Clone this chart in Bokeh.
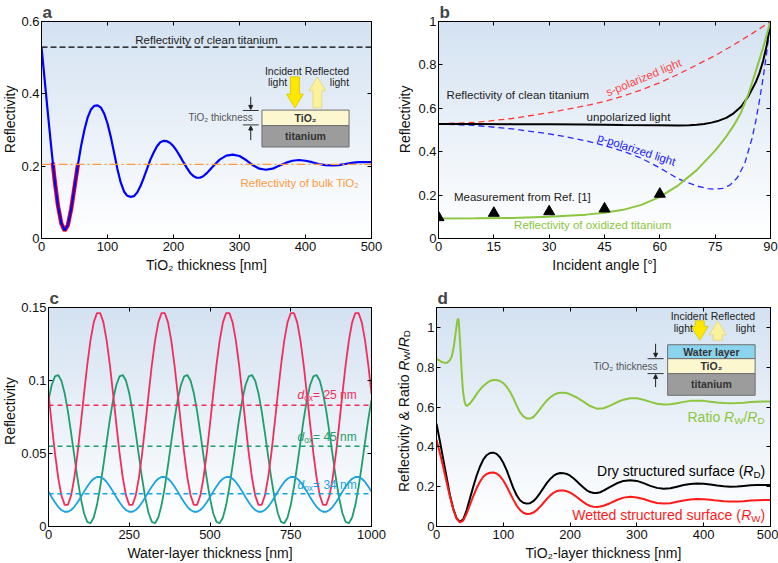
import math
import numpy as np
from bokeh.plotting import figure
from bokeh.models import Range1d, FixedTicker, LinearAxis, Label, Span, Arrow, NormalHead
from bokeh.layouts import column, row
from bokeh.embed import file_html
from bokeh.resources import INLINE

FONT = "Liberation Sans"

# ---------------- data ----------------
# panel a : reflectivity vs TiO2 thickness
a_x = list(range(0, 255, 5)) + list(range(260, 510, 10))
a_blue = [.529, .435, .34, .248, .16, .09, .042, .022, .037, .082, .142, .202, .256, .3, .335, .357, .367,
          .368, .362, .345, .318, .281, .237, .192, .155, .13, .118, .115, .117, .127, .145, .168, .193,
          .218, .238, .255, .266, .27, .269, .264, .255, .242, .227, .211, .196, .182, .173, .168, .168,
          .172, .18,
          .2, .218, .229, .232, .228, .217, .203, .193, .19, .193, .201, .209, .215, .217, .215, .211,
          .206, .203, .202, .203, .206, .209, .211, .211, .211]
a_red_x = [17, 20, 25, 30, 35, 40, 45, 50, 55, 56]
a_red = [.21, .16, .09, .042, .022, .037, .082, .142, .202, .207]
R_CLEAN = 0.529
R_BULK = 0.205
a_xticks = [0, 100, 200, 300, 400, 500]
a_xlabels = ["0", "100", "200", "300", "400", "500"]
a_yticks = [0, 0.2, 0.4, 0.6]
a_ylabels = ["0", "0.2", "0.4", "0.6"]

# panel b : reflectivity vs incident angle
b_s_x = [0, 10, 20, 30, 40, 45, 50, 55, 60, 65, 70, 75, 80, 85, 90]
b_s = [.528, .535, .553, .58, .612, .632, .656, .685, .718, .757, .8, .843, .892, .944, 1.0]
b_p_x = [0, 10, 20, 30, 35, 40, 45, 50, 55, 60, 65, 70, 73, 75, 77, 79, 81, 83, 85, 86, 87, 88, 89, 90]
b_p = [.528, .521, .505, .482, .467, .45, .428, .403, .37, .325, .275, .242, .23, .227, .231, .246,
       .28, .345, .462, .54, .635, .74, .86, 1.0]
b_u_x = [0, 10, 20, 30, 40, 50, 60, 65, 68, 70, 72, 74, 76, 78, 80, 82, 84, 86, 87, 88, 89, 90]
b_u = [.528, .528, .527, .526, .525, .523, .522, .521, .522, .524, .528, .534, .543, .556, .577,
       .607, .655, .72, .762, .818, .892, 1.0]
b_g_x = [0, 10, 20, 30, 40, 45, 50, 55, 60, 65, 70, 75, 78, 80, 82, 84, 86, 88, 90]
b_g = [.092, .093, .095, .1, .11, .119, .132, .155, .192, .245, .315, .405, .47, .52, .58, .665,
       .77, .88, 1.0]
b_meas_x = [0, 15, 30, 45, 60]
b_meas = [.097, .117, .124, .137, .205]
b_xticks = [0, 15, 30, 45, 60, 75, 90]
b_xlabels = ["0", "15", "30", "45", "60", "75", "90"]
b_yticks = [0, 0.2, 0.4, 0.6, 0.8, 1]
b_ylabels = ["0", "0.2", "0.4", "0.6", "0.8", "1"]

# panel c : reflectivity vs water-layer thickness
c_x = list(range(0, 1010, 10))
c_25 = [.0909, .0701, .0503, .0335, .0212, .0148, .0148, .0212, .0335, .0503, .0701, .0909, .1107, .1275, .1398, .1462, .1462, .1398, .1275, .1107,
        .0909, .0701, .0503, .0335, .0212, .0148, .0148, .0212, .0335, .0503, .0701, .0909, .1107, .1275, .1398, .1462, .1462, .1398, .1275, .1107,
        .0909, .0701, .0503, .0335, .0212, .0148, .0148, .0212, .0335, .0503, .0701, .0909, .1107, .1275, .1398, .1462, .1462, .1398, .1275, .1107,
        .0909, .0701, .0503, .0335, .0212, .0148, .0148, .0212, .0335, .0503, .0701, .0909, .1107, .1275, .1398, .1462, .1462, .1398, .1275, .1107,
        .0909, .0701, .0503, .0335, .0212, .0148, .0148, .0212, .0335, .0503, .0701, .0909, .1107, .1275, .1398, .1462, .1462, .1398, .1275, .1107,
        .0909]
c_45 = [.0867, .0969, .1028, .1038, .0998, .0913, .0790, .0641, .0482, .0327, .0193, .0091, .0032, .0022, .0062, .0147, .0270, .0419, .0578, .0733,
        .0867, .0969, .1028, .1038, .0998, .0913, .0790, .0641, .0482, .0327, .0193, .0091, .0032, .0022, .0062, .0147, .0270, .0419, .0578, .0733,
        .0867, .0969, .1028, .1038, .0998, .0913, .0790, .0641, .0482, .0327, .0193, .0091, .0032, .0022, .0062, .0147, .0270, .0419, .0578, .0733,
        .0867, .0969, .1028, .1038, .0998, .0913, .0790, .0641, .0482, .0327, .0193, .0091, .0032, .0022, .0062, .0147, .0270, .0419, .0578, .0733,
        .0867, .0969, .1028, .1038, .0998, .0913, .0790, .0641, .0482, .0327, .0193, .0091, .0032, .0022, .0062, .0147, .0270, .0419, .0578, .0733,
        .0867]
c_34 = [.0239, .0201, .0166, .0135, .0113, .0101, .0101, .0113, .0135, .0166, .0201, .0239, .0274, .0305, .0327, .0339, .0339, .0327, .0305, .0274,
        .0239, .0201, .0166, .0135, .0113, .0101, .0101, .0113, .0135, .0166, .0201, .0239, .0274, .0305, .0327, .0339, .0339, .0327, .0305, .0274,
        .0239, .0201, .0166, .0135, .0113, .0101, .0101, .0113, .0135, .0166, .0201, .0239, .0274, .0305, .0327, .0339, .0339, .0327, .0305, .0274,
        .0239, .0201, .0166, .0135, .0113, .0101, .0101, .0113, .0135, .0166, .0201, .0239, .0274, .0305, .0327, .0339, .0339, .0327, .0305, .0274,
        .0239, .0201, .0166, .0135, .0113, .0101, .0101, .0113, .0135, .0166, .0201, .0239, .0274, .0305, .0327, .0339, .0339, .0327, .0305, .0274,
        .0239]
c_means = [0.083, 0.055, 0.0225]
c_names = ["25", "45", "34"]
c_xticks = [0, 250, 500, 750, 1000]
c_xlabels = ["0", "250", "500", "750", "1000"]
c_yticks = [0, 0.05, 0.1, 0.15]
c_ylabels = ["0", "0.05", "0.1", "0.15"]

# panel d : dry / wetted reflectivity and their ratio
d_x = list(range(0, 255, 5)) + list(range(260, 510, 10))
d_dry = [.517, .43, .34, .25, .16, .09, .042, .024, .036, .08, .14, .2, .255, .3, .336, .358, .369, .371,
         .365, .348, .32, .283, .238, .193, .157, .132, .119, .115, .117, .127, .145, .168, .193, .218,
         .238, .254, .264, .269, .268, .264, .255, .242, .227, .211, .196, .182, .173, .168, .168, .172, .18,
         .199, .217, .229, .232, .229, .218, .204, .194, .19, .192, .2, .208, .214, .216, .215, .211,
         .206, .202, .2, .201, .204, .207, .209, .209, .209]
d_wet = [.436, .37, .3, .225, .152, .088, .04, .021, .03, .064, .108, .152, .192, .225, .25, .264, .27,
         .271, .266, .253, .231, .202, .168, .135, .105, .083, .069, .063, .064, .07, .082, .099, .118,
         .138, .155, .169, .178, .181, .181, .177, .17, .16, .148, .135, .122, .111, .103, .099, .098, .1, .104,
         .117, .133, .145, .149, .146, .138, .127, .118, .115, .117, .124, .131, .136, .138, .137, .134,
         .13, .127, .125, .125, .127, .13, .132, .133, .133]
d_ratio_x = [0, 4, 8, 12, 16, 20, 23, 26, 28, 30, 31, 32, 33, 34, 35, 36, 37, 38, 39, 40, 42, 44, 46, 50] + \
    list(range(55, 205, 5)) + list(range(210, 510, 10))
d_ratio = [.842, .835, .826, .822, .823, .835, .855, .905, .955, 1.005, 1.03, 1.043, 1.04, 1.0, .94, .885,
           .82, .76, .71, .67, .628, .608, .607, .617,
           .64, .665, .687, .706, .72, .731, .736, .736, .731, .72, .702, .677, .645, .607, .574, .553,
           .543, .542, .55, .568, .59, .612, .632, .648, .66, .668, .672, .672, .67, .664,
           .648, .627, .605, .592, .594, .607, .624, .637, .644, .644, .637, .626, .617, .613, .614,
           .619, .626, .631, .632, .631, .627, .623, .62, .619, .62, .622, .625, .627, .628, .628]
d_xticks = [0, 100, 200, 300, 400, 500]
d_xlabels = ["0", "100", "200", "300", "400", "500"]
d_yticks = [0, 0.2, 0.4, 0.6, 0.8, 1]
d_ylabels = ["0", "0.2", "0.4", "0.6", "0.8", "1"]

# ---------------- helpers ----------------
_W = {}
for chars, w in [(" !./[]", 278), ("()-r", 333), ("=", 584), ("&", 667), ("0123456789", 556),
                 ("ABEKPSVXY", 667), ("CDHNRU", 722), ("FTZ", 611), ("GOQ", 778), ("I", 278), ("J", 500),
                 ("L", 556), ("M", 833), ("W", 944), ("abdeghnopqu", 556), ("cksvxyz", 500),
                 ("ft", 278), ("ijl", 222), ("m", 833), ("w", 722)]:
    for ch in chars:
        _W[ch] = w


def tw(s, size):
    return sum(_W.get(ch, 556) for ch in s) * size / 1000.0


def rich(p, x, y, pieces, size, color, align="left", vertical=False):
    """Mixed normal / italic / subscript text.  Horizontal: y is the centre of the text line.
    Vertical (rotated 90 deg): x is the centre of the text line, y the centre along the text."""
    sizes = [size * 0.7 if k == "s" else size for _, k in pieces]
    widths = [tw(t, fs) for (t, _), fs in zip(pieces, sizes)]
    total = sum(widths)
    pos = {"left": 0.0, "center": -total / 2, "right": -total}[align]
    for (t, k), fs, w in zip(pieces, sizes, widths):
        drop = 0.22 * size if k == "s" else 0.0
        if vertical:
            xo, yo, ang = drop, pos, math.pi / 2
        else:
            xo, yo, ang = pos, -drop, 0.0
        p.add_layout(Label(x=x, y=y, x_offset=xo, y_offset=yo, text=t, angle=ang,
                           text_font=FONT, text_font_size="%.1fpx" % fs,
                           text_font_style="italic" if k == "i" else "normal",
                           text_color=color, text_align="left", text_baseline="middle"))
        pos += w


def label(p, x, y, text, size=11.5, color="#222222", align="left", bold=False, angle=0.0):
    p.add_layout(Label(x=x, y=y, text=text, angle=angle, text_font=FONT, text_font_size="%.1fpx" % size,
                       text_font_style="bold" if bold else "normal", text_color=color,
                       text_align=align, text_baseline="middle"))


def make_fig(w, h, bl, br, bt, bb, xr, yr, letter):
    p = figure(width=w, height=h, x_range=Range1d(*xr), y_range=Range1d(*yr),
               output_backend="svg", toolbar_location=None, title=letter,
               min_border_left=bl, min_border_right=br, min_border_top=bt, min_border_bottom=bb)
    p.title.text_font = FONT
    p.title.text_font_size = "17px"
    p.title.text_font_style = "bold"
    p.title.align = "left"
    p.title.standoff = 0
    p.title.offset = 1
    p.grid.visible = False
    p.outline_line_color = "black"
    p.outline_line_width = 1
    p.border_fill_color = "white"
    p.background_fill_color = "white"
    # gradient background of the plotting area
    n = 64
    img = np.zeros((n, 2), dtype=np.uint32)
    view = img.view(dtype=np.uint8).reshape((n, 2, 4))
    top = (212, 226, 241)
    for i in range(n):
        t = i / (n - 1)
        for c in range(3):
            view[i, :, c] = int(round(255 + (top[c] - 255) * t))
        view[i, :, 3] = 255
    p.image_rgba(image=[img], x=xr[0], y=yr[0], dw=xr[1] - xr[0], dh=yr[1] - yr[0])
    return p


def style_axes(p, xt, xl, yt, yl, xlabel):
    p.xaxis.ticker = FixedTicker(ticks=xt)
    p.xaxis.major_label_overrides = dict(zip(xt, xl))
    p.yaxis.ticker = FixedTicker(ticks=yt)
    p.yaxis.major_label_overrides = dict(zip(yt, yl))
    for ax in (p.xaxis[0], p.yaxis[0]):
        ax.major_tick_in = 4
        ax.major_tick_out = 0
        ax.minor_tick_line_color = None
        ax.axis_line_color = "black"
        ax.major_label_text_font = FONT
        ax.major_label_text_font_size = "13px"
        ax.major_label_text_color = "#111111"
        ax.axis_label_text_font = FONT
        ax.axis_label_text_font_size = "14px"
        ax.axis_label_text_font_style = "normal"
        ax.axis_label_text_color = "#111111"
        ax.major_label_standoff = 3
        ax.axis_label_standoff = 3
    p.yaxis.major_label_standoff = 2
    p.xaxis.axis_label = xlabel
    for loc, ticks in (("above", xt), ("right", yt)):
        ax = LinearAxis(ticker=FixedTicker(ticks=ticks), major_label_text_font_size="0px",
                        major_label_text_color=None, major_label_text_alpha=0,
                        major_label_standoff=0, major_tick_in=4, major_tick_out=0,
                        minor_tick_line_color=None, axis_line_color="black")
        p.add_layout(ax, loc)


def ylabel_fig(w, h, yc_from_top, pieces, size=14):
    f = figure(width=w, height=h, x_range=Range1d(0, w), y_range=Range1d(0, h), title=None,
               x_axis_type=None, y_axis_type=None, output_backend="svg", toolbar_location=None,
               min_border=0)
    f.outline_line_color = None
    f.grid.visible = False
    f.border_fill_color = "white"
    f.background_fill_color = "white"
    rich(f, w / 2, h - yc_from_top, pieces, size, "#111111", "center", vertical=True)
    return f


def block_arrow(p, cx, y_tail, y_tip, kx, ky, fill, line, shaft=9, head=17, head_len=14):
    hs = shaft / 2 / kx
    hh = head / 2 / kx
    d = 1 if y_tip > y_tail else -1
    yb = y_tip - d * head_len / ky
    xs = [cx - hs, cx + hs, cx + hs, cx + hh, cx, cx - hh, cx - hs]
    ys = [y_tail, y_tail, yb, yb, y_tip, yb, yb]
    p.patch(xs, ys, fill_color=fill, line_color=line, line_width=0.8)


def small_arrow(p, x, y0, y1):
    p.add_layout(Arrow(end=NormalHead(size=4, fill_color="#222222", line_color="#222222"),
                       x_start=x, y_start=y0, x_end=x, y_end=y1,
                       line_color="#222222", line_width=1))


def stack_diagram(p, x0, x1, layers, kx, ky, inc_x, ref_x, arr_tail, arr_tip, txt_y, gap_x, thick_lines,
                  thick_arrows, thick_text):
    for bottom, top_, fill, txt in layers:
        p.quad(left=x0, right=x1, bottom=bottom, top=top_, fill_color=fill, line_color="#707070", line_width=1)
        label(p, (x0 + x1) / 2, (bottom + top_) / 2, txt, size=10.5, color="#333333", align="center", bold=True)
    block_arrow(p, inc_x, arr_tail, arr_tip, kx, ky, "#ffe800", "#d9c400")
    block_arrow(p, ref_x, arr_tip, arr_tail, kx, ky, "#fbf19a", "#e0d67f")
    label(p, x0 + 3 / kx, txt_y[0], "Incident", size=10.5)
    label(p, x0 + 6 / kx, txt_y[1], "light", size=10.5)
    label(p, x1, txt_y[0], "Reflected", size=10.5, align="right")
    label(p, x1, txt_y[1], "light", size=10.5, align="right")
    label(p, gap_x[0], thick_text, "TiO\u2082 thickness", size=10, color="#555555", align="right")
    p.segment(x0=[gap_x[1]] * 2, x1=[gap_x[2]] * 2, y0=thick_lines, y1=thick_lines, line_color="#333333", line_width=1)
    small_arrow(p, gap_x[3], thick_arrows[0], thick_arrows[1])
    small_arrow(p, gap_x[3], thick_arrows[2], thick_arrows[3])


H1, H2 = 285, 278
REFL = [("Reflectivity", "n")]

# ---------------- panel a ----------------
la = ylabel_fig(18, H1, 128.5, REFL)
pa = make_fig(377, H1, 21, 24, 19, 47, (0, 500), (0, 0.6), "a")
style_axes(pa, a_xticks, a_xlabels, a_yticks, a_ylabels, "TiO\u2082 thickness [nm]")
kxa, kya = 332 / 500, 219 / 0.6
pa.add_layout(Span(location=R_CLEAN, dimension="width", line_color="black", line_width=1.2, line_dash="6 3"))
pa.add_layout(Span(location=R_BULK, dimension="width", line_color="#ff9a3c", line_width=1.3, line_dash="9 3 2 3"))
pa.line(a_red_x, a_red, line_color="#ff0000", line_width=4.2)
pa.line(a_x, a_blue, line_color="#0000ff", line_width=2.2)
label(pa, 250, 0.548, "Reflectivity of clean titanium", align="center")
label(pa, 481, 0.154, "Reflectivity of bulk TiO\u2082", color="#ff9a3c", align="right")
stack_diagram(pa, 334, 466, [(0.312, 0.355, "#fdf7d0", "TiO\u2082"), (0.253, 0.312, "#9c9c9c", "titanium")],
              kxa, kya, 384, 418, 0.447, 0.361, (0.463, 0.433), (320, 305, 329, 317), [0.354, 0.314],
              (0.392, 0.357, 0.272, 0.311), 0.334)

# ---------------- panel b ----------------
lb = ylabel_fig(18, H1, 128.5, REFL)
pb = make_fig(365, H1, 25, 8, 19, 47, (0, 90), (0, 1), "b")
style_axes(pb, b_xticks, b_xlabels, b_yticks, b_ylabels, "Incident angle [\u00b0]")
pb.line(b_s_x, b_s, line_color="#ff3838", line_width=1.3, line_dash="6 4")
pb.line(b_p_x, b_p, line_color="#2828ff", line_width=1.3, line_dash="6 4")
pb.line(b_u_x, b_u, line_color="black", line_width=2)
pb.line(b_g_x, b_g, line_color="#8cc63f", line_width=2)
pb.scatter(b_meas_x, b_meas, marker="triangle", size=11, color="black")
label(pb, 2.2, 0.66, "Reflectivity of clean titanium")
label(pb, 51.5, 0.562, "unpolarized light", align="center")
label(pb, 55.6, 0.742, "s-polarized light", color="#ff4848", align="center", angle=math.radians(22.5))
label(pb, 53.7, 0.41, "p-polarized light", color="#2020ff", align="center", angle=math.radians(-18))
label(pb, 4.2, 0.193, "Measurement from Ref. [1]")
label(pb, 20.5, 0.064, "Reflectivity of oxidized titanium", color="#8cc63f")

# ---------------- panel c ----------------
lc = ylabel_fig(18, H2, 131.5, REFL)
pc = make_fig(376, H2, 21, 23, 22, 37, (0, 1000), (0, 0.15), "c")
style_axes(pc, c_xticks, c_xlabels, c_yticks, c_ylabels, "Water-layer thickness [nm]")
c_cols = ["#f22d5c", "#1f9e6c", "#1aa3de"]
for m, col in zip(c_means, c_cols):
    pc.add_layout(Span(location=m, dimension="width", line_color=col, line_width=1.5, line_dash="5 4"))
pc.line(c_x, c_45, line_color=c_cols[1], line_width=1.8)
pc.line(c_x, c_25, line_color=c_cols[0], line_width=1.8)
pc.line(c_x, c_34, line_color=c_cols[2], line_width=1.8)
for name, ly, col in zip(c_names, [0.09, 0.061, 0.0283], c_cols):
    rich(pc, 771, ly, [("d", "i"), ("ox", "s"), (" = %s nm" % name, "n")], 12, col)

# ---------------- panel d ----------------
ld = ylabel_fig(18, H2, 131.5, [("Reflectivity & Ratio ", "n"), ("R", "i"), ("W", "s"), ("/", "n"),
                                ("R", "i"), ("D", "s")])
pd_ = make_fig(366, H2, 24, 8, 22, 37, (0, 500), (0, 1.1), "d")
style_axes(pd_, d_xticks, d_xlabels, d_yticks, d_ylabels, "TiO\u2082-layer thickness [nm]")
kxd, kyd = 334 / 500, 219 / 1.1
pd_.line(d_ratio_x, d_ratio, line_color="#8cc63f", line_width=2)
pd_.line(d_x, d_dry, line_color="black", line_width=2)
pd_.line(d_x, d_wet, line_color="#ff1a1a", line_width=2)
rich(pd_, 491, 0.55, [("Ratio ", "n"), ("R", "i"), ("W", "s"), ("/", "n"), ("R", "i"), ("D", "s")], 14, "#8cc63f", "right")
rich(pd_, 492, 0.278, [("Dry structured surface (", "n"), ("R", "i"), ("D", "s"), (")", "n")], 14, "black", "right")
rich(pd_, 492, 0.057, [("Wetted structured surface (", "n"), ("R", "i"), ("W", "s"), (")", "n")], 14, "#ff1a1a", "right")
stack_diagram(pd_, 346, 477, [(0.843, 0.913, "#8ad4ee", "Water layer"), (0.768, 0.843, "#fdf7d0", "TiO\u2082"),
                              (0.659, 0.768, "#9c9c9c", "titanium")],
              kxd, kyd, 394, 421, 1.033, 0.935, (1.055, 0.997), (331, 316, 340, 328), [0.843, 0.768],
              (0.918, 0.85, 0.70, 0.764), 0.804)

layout = column(row(la, pa, lb, pb), row(lc, pc, ld, pd_))
open("out.html", "w").write(file_html(layout, INLINE))
